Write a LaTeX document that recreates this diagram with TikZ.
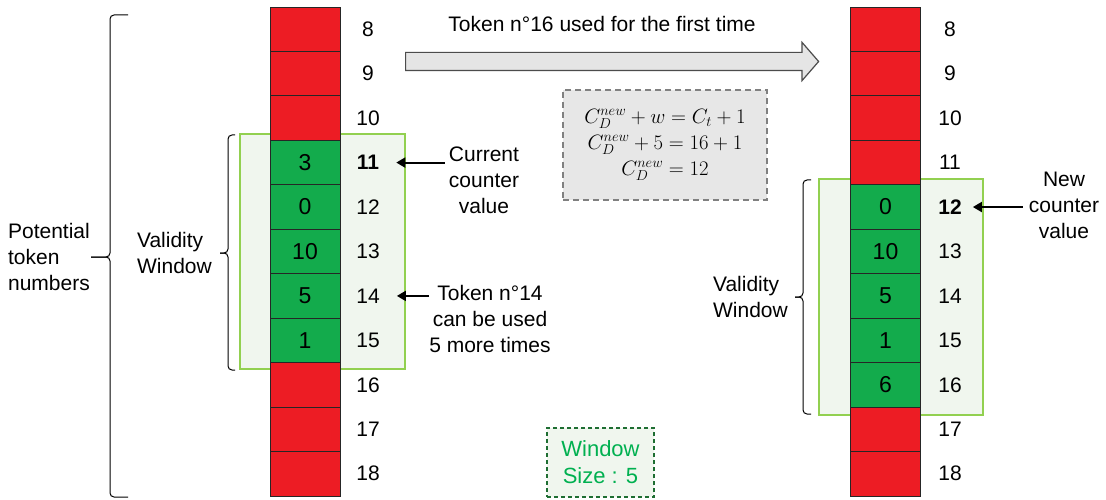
\documentclass[tikz,border=0pt]{standalone}
\usepackage{fontspec}
\setmainfont{Liberation Sans}
\usetikzlibrary{positioning,shapes.arrows,arrows.meta}

\definecolor{tokred}{RGB}{237,28,36}
\definecolor{tokgreen}{RGB}{19,171,76}
\definecolor{winfill}{RGB}{240,246,238}
\definecolor{winline}{RGB}{146,208,80}
\definecolor{sizegreen}{RGB}{0,176,80}
\definecolor{sizeline}{RGB}{30,110,50}
\definecolor{formfill}{RGB}{231,231,231}

\tikzset{
  cell/.style={draw=black!85, line width=0.8pt, minimum width=70pt, minimum height=44.45pt, inner sep=0, font=\fontsize{23}{26}\selectfont},
  tokennum/.style={inner sep=0, font=\fontsize{21}{26}\selectfont},
  note/.style={align=center, inner sep=0, font=\fontsize{21}{26}\selectfont},
  window/.style={draw=winline, line width=1.2pt, fill=winfill},
  pointer/.style={-{Triangle[length=9pt,width=10pt]}, line width=2pt},
  bracket/.style={line width=1pt, rounded corners=4pt},
}

\begin{document}
\begin{tikzpicture}[x=1pt,y=-1pt]
                \newcommand{\rowh}{44.45}
                \newcommand{\coltop}{7}

                \useasboundingbox[fill=white] (0,0) rectangle (1106,500);

                % Draw validity windows
                \draw[window] (240,134) rectangle (405,369);
                \draw[window] (819,179) rectangle (983,415);

                % Draw left column
                \foreach \n/\v/\c in {8//tokred,9//tokred,10//tokred,11/3/tokgreen,12/0/tokgreen,13/10/tokgreen,14/5/tokgreen,15/1/tokgreen,16//tokred,17//tokred,18//tokred} {
                    \node[cell, fill=\c] (L\n) at (305, {\coltop+(\n-7.5)*\rowh}) {\v};
                    \node[tokennum] (Ln\n) at (368, {\coltop+(\n-7.5)*\rowh}) {\ifnum\n=11 \textbf{\n}\else\n\fi};
                }

                % Draw right column
                \foreach \n/\v/\c in {8//tokred,9//tokred,10//tokred,11//tokred,12/0/tokgreen,13/10/tokgreen,14/5/tokgreen,15/1/tokgreen,16/6/tokgreen,17//tokred,18//tokred} {
                    \node[cell, fill=\c] (R\n) at (885.5, {\coltop+(\n-7.5)*\rowh}) {\v};
                    \node[tokennum] (Rn\n) at (950, {\coltop+(\n-7.5)*\rowh}) {\ifnum\n=12 \textbf{\n}\else\n\fi};
                }

                % Braces
                \coordinate (alltip) at (91,257);
                \draw[bracket] (128,15) -- (110,15) -- (110,257) -- (alltip);
                \draw[bracket] (128,497) -- (110,497) -- (110,257) -- (alltip);
                \node[note, align=left, left=1pt of alltip] (alltext) {Potential\\token\\numbers};

                \coordinate (ltip) at (220,253);
                \draw[bracket] (235,135) -- (228,135) -- (228,253) -- (ltip);
                \draw[bracket] (235,370) -- (228,370) -- (228,253) -- (ltip);
                \node[note, align=left, left=8pt of ltip] (lvalid) {Validity\\Window};

                \coordinate (rtip) at (795,297);
                \draw[bracket] (811,180) -- (803,180) -- (803,297) -- (rtip);
                \draw[bracket] (811,414) -- (803,414) -- (803,297) -- (rtip);
                \node[note, align=left, left=7pt of rtip] (rvalid) {Validity\\Window};

                % Transition arrow
                \node[single arrow, draw=black!70, fill=black!10, line width=1.2pt, inner xsep=0, inner ysep=8.5pt, minimum height=413, single arrow head extend=10, single arrow tip angle=98, anchor=west] (usedarrow) at (405,61.5) {};
                \node[note] (usedtext) at (602,24) {Token n°16 used for the first time};

                % Formula
                \node[draw=black!50, dash pattern=on 6pt off 4pt, line width=1.2pt, fill=formfill, minimum width=204, minimum height=110, align=center, font=\fontsize{21}{26}\selectfont] (formula) at (665,145) {$C_D^{new}+w=C_t+1$\\$C_D^{new}+5=16+1$\\$C_D^{new}=12$};

                % Window size
                \node[draw=sizeline, dash pattern=on 4pt off 3pt, line width=1.2pt, fill=winfill, text=sizegreen, minimum width=107, minimum height=69, align=center, font=\fontsize{22}{27}\selectfont] (winsize) at (600.5,462.5) {Window\\Size : 5};

                % Notes with pointers
                \node[note, anchor=north] (curnote) at (484,147) {Current\\counter\\value};
                \draw[pointer] ([xshift=-4pt]curnote.west |- Ln11) -- ([xshift=17pt]Ln11.east);

                \node[note, anchor=north] (usenote) at (490,285) {Token n°14\\can be used\\5 more times};
                \draw[pointer] (usenote.west |- Ln14) -- ([xshift=17pt]Ln14.east);

                \node[note, anchor=north] (newnote) at (1064,172) {New\\counter\\value};
                \draw[pointer] ([xshift=-6pt]newnote.west |- Rn12) -- ([xshift=11pt]Rn12.east);
            \end{tikzpicture}
\end{document}
